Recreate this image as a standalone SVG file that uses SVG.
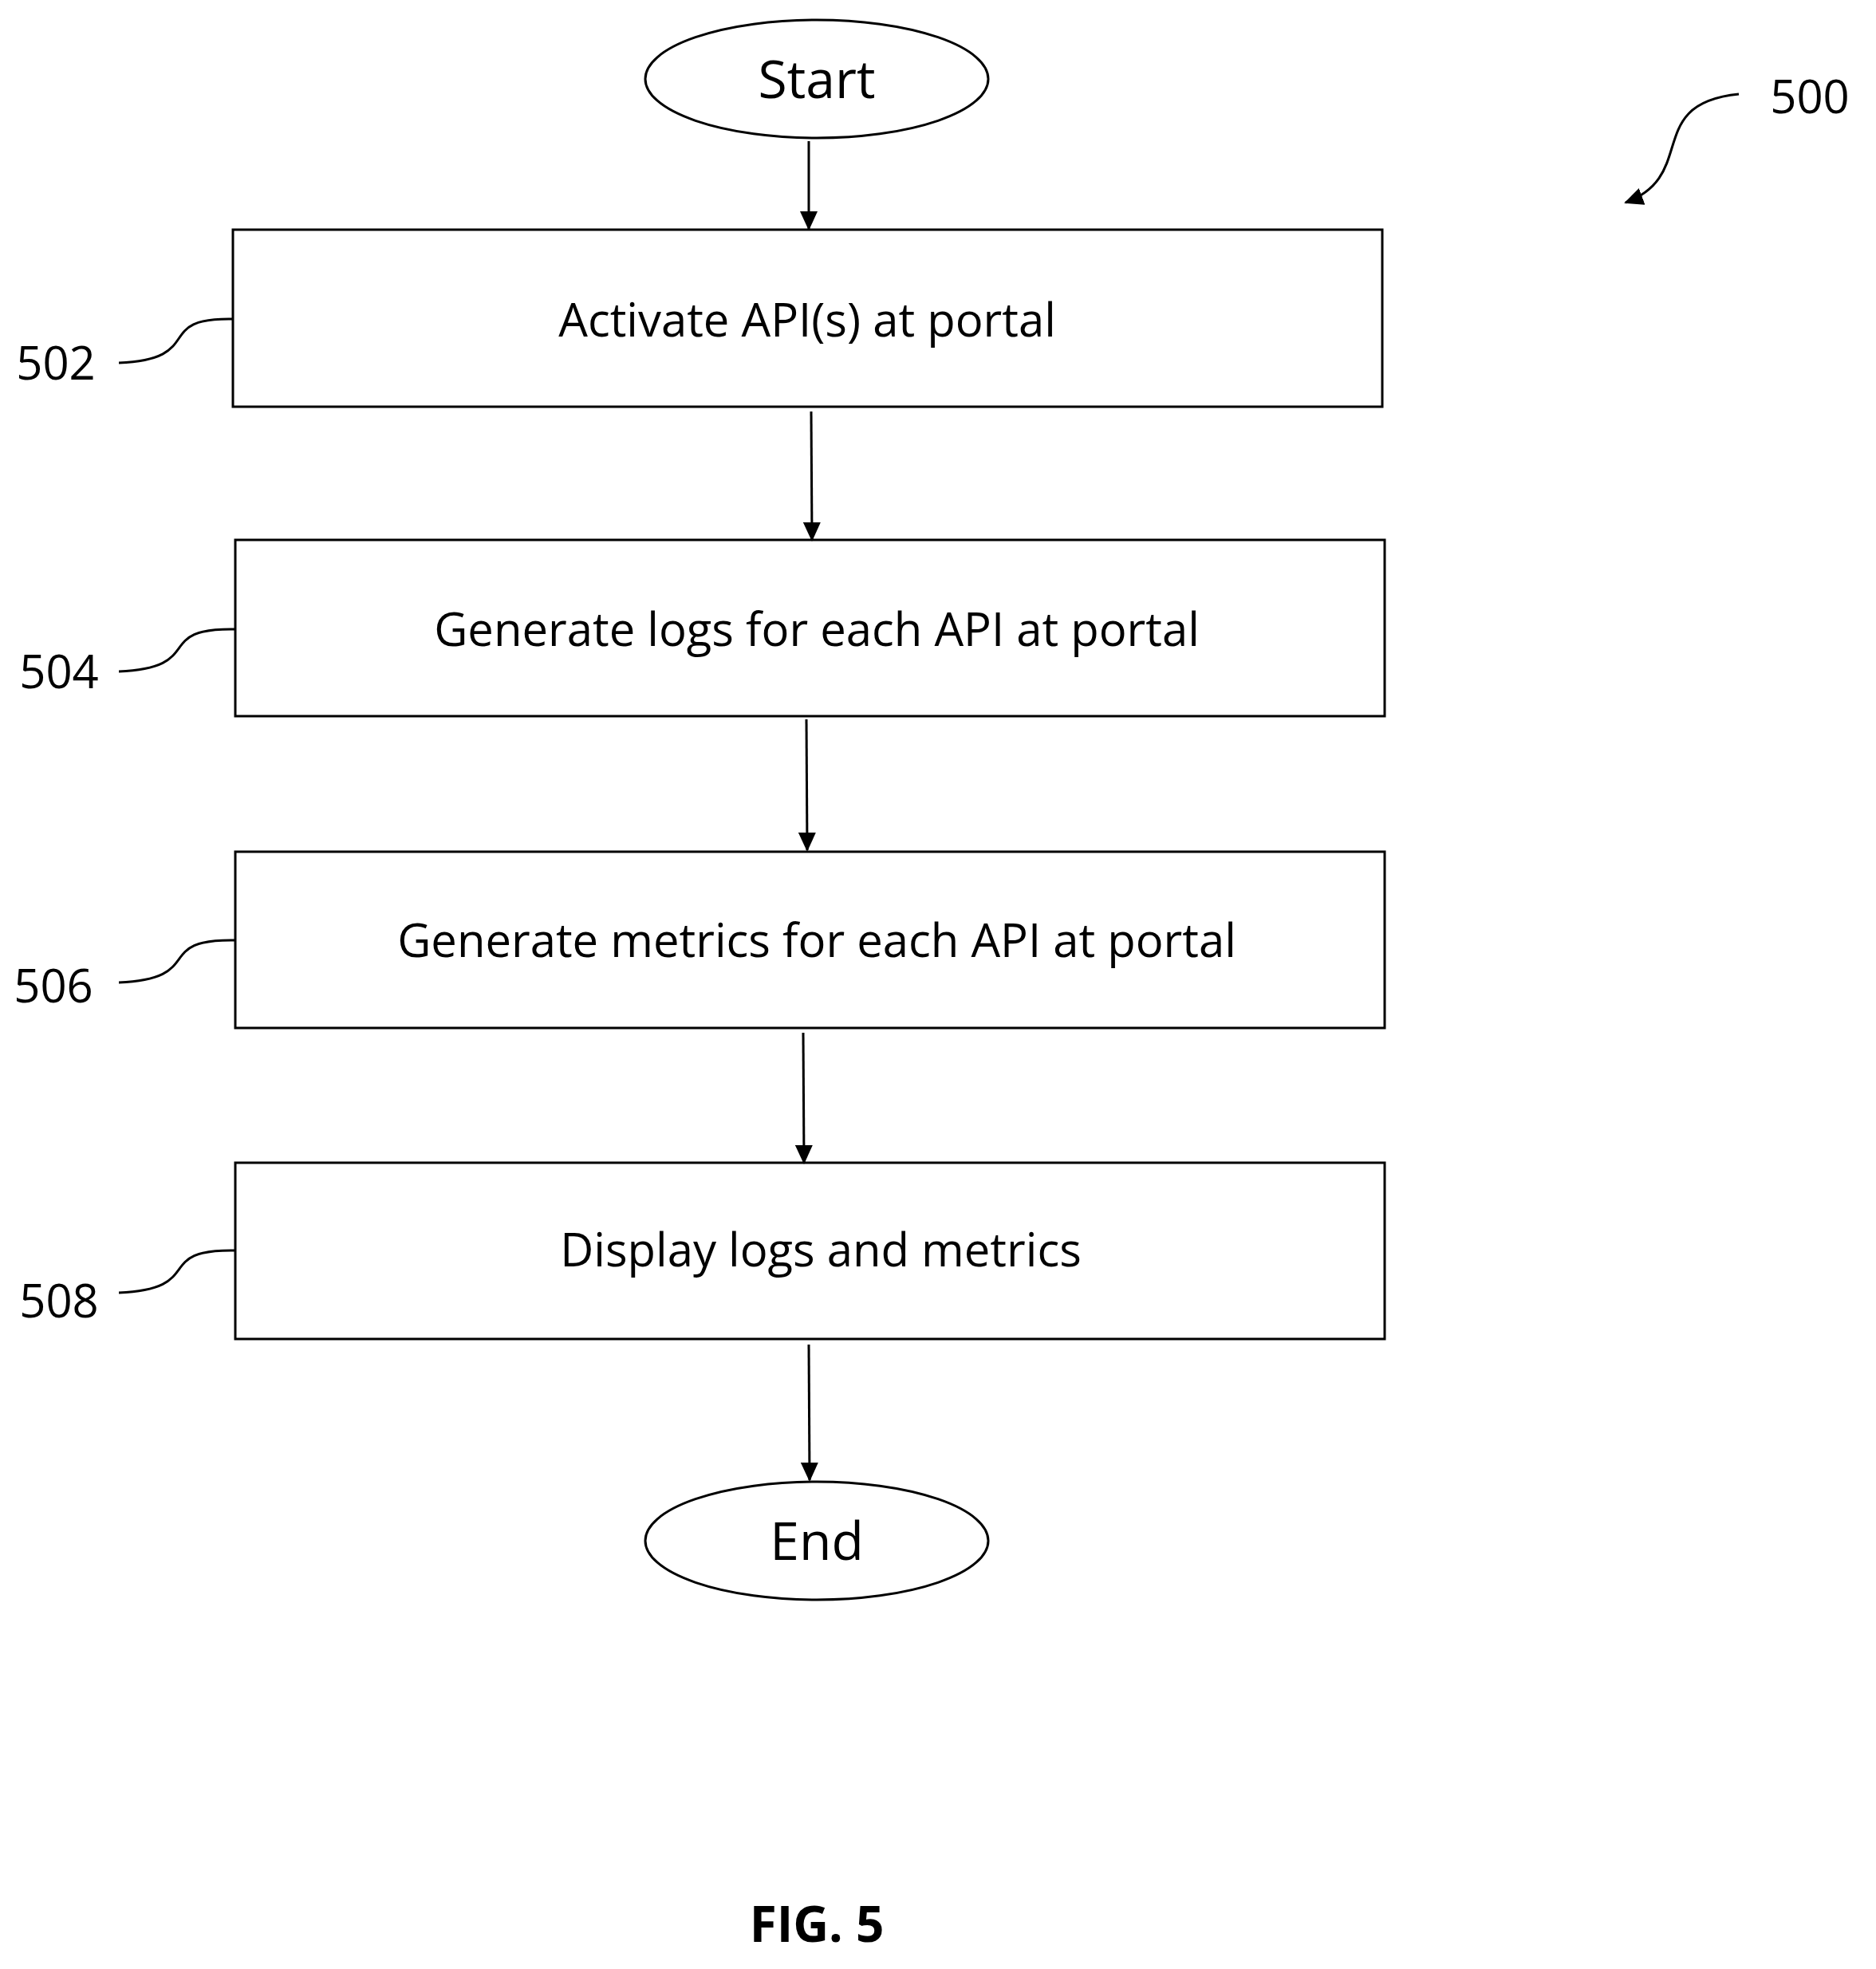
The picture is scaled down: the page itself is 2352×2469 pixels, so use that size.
<svg xmlns="http://www.w3.org/2000/svg" width="2352" height="2469" viewBox="0 0 2352 2469">
<style>
.s{fill:#fff;stroke:#000;stroke-width:3}
.t{font-family:"Open Sans","Liberation Sans",sans-serif;font-size:58px;text-anchor:middle;fill:#000}
.c{fill:none;stroke:#000;stroke-width:3}
</style>
<defs>
<marker id="b" markerWidth="24" markerHeight="22" refX="22" refY="11" orient="auto" markerUnits="userSpaceOnUse"><path d="M0,0L24,11L0,22z"/></marker></defs>
<rect width="2352" height="2469" fill="#fff"/>
<g id="start"><ellipse class="s" cx="1024" cy="99" rx="215" ry="74"/><text class="t" x="1024" y="123" style="font-size:66px">Start</text></g>
<g id="n502"><rect class="s" x="292" y="288" width="1441" height="222"/><text class="t" x="1012" y="422">Activate API(s) at portal</text></g>
<g id="n504"><rect class="s" x="295" y="677" width="1441" height="221"/><text class="t" x="1024" y="810">Generate logs for each API at portal</text></g>
<g id="n506"><rect class="s" x="295" y="1068" width="1441" height="221"/><text class="t" x="1024" y="1200">Generate metrics for each API at portal</text></g>
<g id="n508"><rect class="s" x="295" y="1458" width="1441" height="221"/><text class="t" x="1029" y="1588">Display logs and metrics</text></g>
<g id="end"><ellipse class="s" cx="1024" cy="1932" rx="215" ry="74"/><text class="t" x="1024" y="1956" style="font-size:66px">End</text></g>
<g id="labels" class="t">
<text x="70" y="476">502</text><text x="74" y="863">504</text><text x="67" y="1257">506</text><text x="74" y="1652">508</text><text x="2269" y="142">500</text>
<text x="1024" y="2435" style="font-weight:bold;font-size:62px">FIG. 5</text>
</g>
<g id="connectors">
<line class="c" x1="1014" y1="177" x2="1014" y2="287" marker-end="url(#b)"/>
<line class="c" x1="1017" y1="516" x2="1018" y2="677" marker-end="url(#b)"/>
<line class="c" x1="1011" y1="902" x2="1012" y2="1066" marker-end="url(#b)"/>
<line class="c" x1="1007" y1="1295" x2="1008" y2="1458" marker-end="url(#b)"/>
<line class="c" x1="1014" y1="1686" x2="1015" y2="1856" marker-end="url(#b)"/>
<path class="c" d="M149,455 C260,450 190,398 292,400"/>
<path class="c" d="M149,842 C260,837 190,787 295,789"/>
<path class="c" d="M149,1232 C260,1227 190,1177 295,1179"/>
<path class="c" d="M149,1621 C260,1616 190,1566 295,1568"/>
<path class="c" d="M2180,118 C2060,130 2130,220 2038,254" marker-end="url(#b)"/>
</g>
</svg>
